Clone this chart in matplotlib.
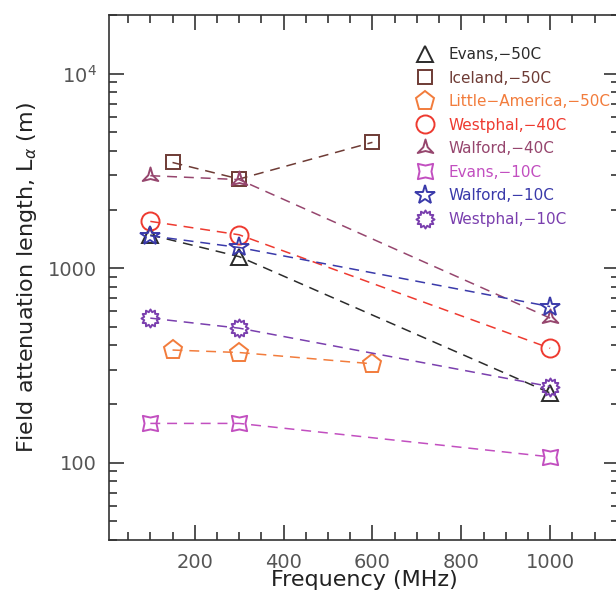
import numpy as np
import matplotlib
matplotlib.use('Agg')
import matplotlib.pyplot as plt
from matplotlib.path import Path

# Measured data (frequency in MHz, attenuation length in m)
evans50_f = [100, 300, 1000]
evans50_L = [1480, 1145, 228]
iceland50_f = [150, 300, 600]
iceland50_L = [3490, 2870, 4430]
littleam50_f = [150, 300, 600]
littleam50_L = [379, 368, 322]
westphal40_f = [100, 300, 1000]
westphal40_L = [1738, 1483, 387]
walford40_f = [100, 300, 1000]
walford40_L = [2985, 2850, 553]
evans10_f = [100, 300, 1000]
evans10_L = [159, 159, 107]
walford10_f = [100, 300, 1000]
walford10_L = [1466, 1276, 634]
westphal10_f = [100, 300, 1000]
westphal10_L = [553, 491, 246]


def star_marker(n, inner, angle=90):
    verts = []
    for i in range(2 * n):
        r = 1.0 if i % 2 == 0 else inner
        a = np.deg2rad(angle + i * 180.0 / n)
        verts.append((r * np.cos(a), r * np.sin(a)))
    verts.append(verts[0])
    return Path(verts, closed=True)


tripod = star_marker(3, 0.28, 90)
astroid = star_marker(4, 0.55, 45)
gear = star_marker(12, 0.72, 90)

series = [
    ("Evans,\u221250C", evans50_f, evans50_L, '#2b2b2b', '^', 11),
    ("Iceland,\u221250C", iceland50_f, iceland50_L, '#6e3b35', 's', 10),
    ("Little\u2212America,\u221250C", littleam50_f, littleam50_L, '#f27c3c', 'p', 14),
    ("Westphal,\u221240C", westphal40_f, westphal40_L, '#ee3a30', 'o', 13),
    ("Walford,\u221240C", walford40_f, walford40_L, '#96466e', tripod, 13),
    ("Evans,\u221210C", evans10_f, evans10_L, '#c24fc0', astroid, 11),
    ("Walford,\u221210C", walford10_f, walford10_L, '#3a3aaa', '*', 15),
    ("Westphal,\u221210C", westphal10_f, westphal10_L, '#7a3fae', gear, 13),
]

fig = plt.figure(figsize=(6.16, 5.97), dpi=100)
ax = fig.add_axes([109 / 616, 1 - 540 / 597, (619 - 109) / 616, (540 - 15) / 597])

handles = []
for label, f, L, col, mk, ms in series:
    ax.plot(f, L, linestyle=(0, (6.5, 4.5)), color=col, lw=1.1)
    h, = ax.plot(f, L, linestyle='none', marker=mk, markersize=ms,
                 markerfacecolor='none', markeredgecolor=col, markeredgewidth=1.4,
                 label=label)
    handles.append(h)

ax.set_yscale('log')
ax.set_xlim(7, 1155)
ax.set_ylim(40, 20000)
ax.set_xticks([200, 400, 600, 800, 1000])
ax.set_xticks(np.arange(50, 1150, 50), minor=True)
ax.set_yticks([100, 1000, 10000])
ax.set_yticklabels(['100', '1000', r'$10^4$'])

ax.tick_params(which='both', direction='in', top=True, right=True,
               color='#333333', width=1.2)
ax.tick_params(which='major', length=11, labelsize=14, labelcolor='#555555')
ax.tick_params(which='minor', length=6)
ax.tick_params(axis='y', which='major', pad=9)
ax.tick_params(axis='x', which='major', pad=9)
for s in ax.spines.values():
    s.set_linewidth(1.2)
    s.set_color('#333333')

ax.set_xlabel('Frequency (MHz)', fontsize=16, color='#222222', labelpad=-1)
ax.set_ylabel(r'Field attenuation length, L$_\alpha$ (m)', fontsize=16,
              color='#222222', labelpad=6)

leg = ax.legend(handles=handles, loc='upper left', bbox_to_anchor=(416 / 616, 1 - 47 / 597),
                bbox_transform=fig.transFigure, frameon=False, fontsize=11,
                handlelength=1.2, handletextpad=0.95, labelspacing=0.56,
                borderpad=0, borderaxespad=0)
for txt, s in zip(leg.get_texts(), series):
    txt.set_color(s[3])

fig.savefig('out.png', dpi=100)
